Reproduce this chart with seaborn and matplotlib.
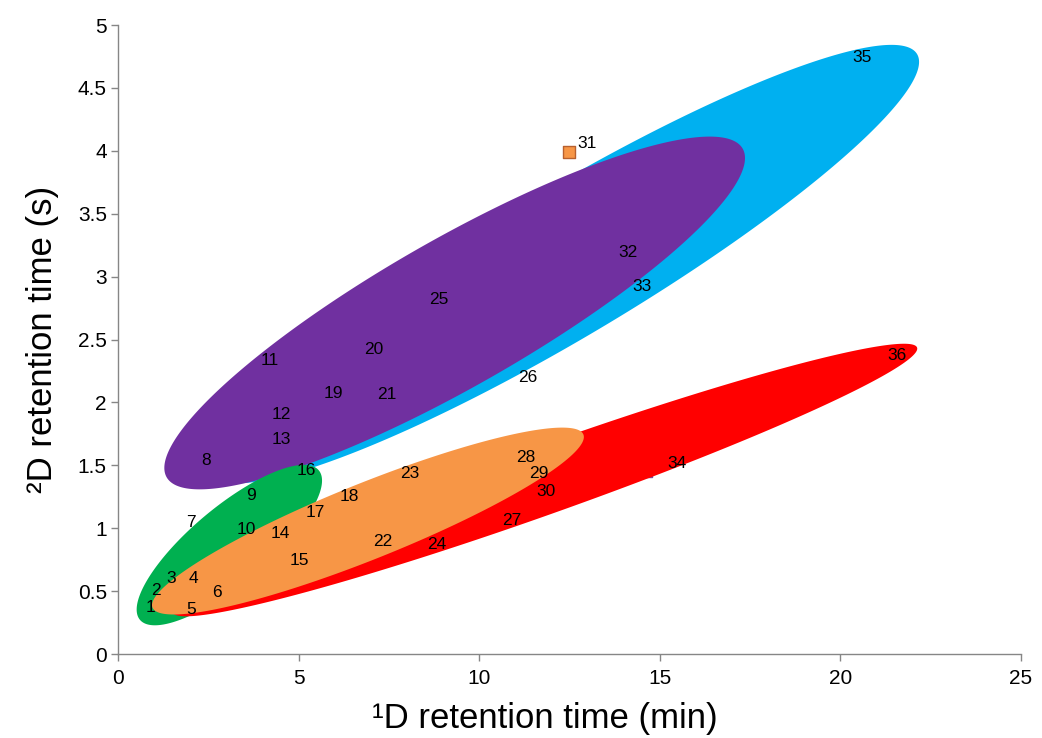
import numpy as np
import pandas as pd
import matplotlib
matplotlib.use("Agg")
import matplotlib.pyplot as plt
import seaborn as sns

# Peak numbers and their retention times in both dimensions
peak_ids = list(range(1, 37))
rt_1d_min = [0.53, 0.69, 1.11, 1.72, 1.66, 2.38, 1.66, 2.08, 3.32, 3.07,
             3.74, 4.04, 4.04, 4.01, 4.54, 4.73, 4.98, 5.92, 5.48, 6.59,
             6.95, 6.84, 7.59, 8.33, 8.39, 10.85, 10.41, 10.80, 11.16, 11.35,
             12.49, 13.62, 14.01, 14.62, 20.10, 21.07]
rt_2d_s = [0.30, 0.43, 0.53, 0.53, 0.28, 0.42, 0.97, 1.47, 1.19, 0.92,
           2.26, 1.83, 1.63, 0.89, 0.67, 1.39, 1.05, 1.18, 2.00, 2.35,
           1.99, 0.82, 1.36, 0.80, 2.75, 2.13, 0.99, 1.49, 1.36, 1.22,
           3.99, 3.12, 2.85, 1.45, 4.67, 2.30]
compound_class = ["green", "green", "green", "orange", "red", "orange", "green", "purple", "green", "green",
                  "purple", "purple", "purple", "orange", "orange", "green", "orange", "orange", "purple", "purple",
                  "purple", "orange", "orange", "red", "purple", "blue", "red", "orange", "orange", "red",
                  "orange", "purple", "blue", "red", "blue", "red"]
# Peaks plotted with a marker (the rest carry only their number)
flagged_peaks = [31, 34]

# Group regions: centre, major semi-axis vector and minor semi-axis vector (data units)
region_names = ["blue", "purple", "green", "red", "orange"]
region_cx = [12.375, 9.322, 3.084, 11.822, 6.921]
region_cy = [3.100, 2.711, 0.866, 1.383, 1.057]
region_major_dx = [9.749, 7.974, 2.476, 10.302, 5.965]
region_major_dy = [1.669, 1.306, 0.594, 1.053, 0.688]
region_minor_dx = [-1.040, -1.013, -0.674, -0.316, -0.392]
region_minor_dy = [0.500, 0.510, 0.232, 0.255, 0.280]

x_ticks = [0, 5, 10, 15, 20, 25]
y_ticks = [0, 0.5, 1, 1.5, 2, 2.5, 3, 3.5, 4, 4.5, 5]
y_tick_labels = ["0", "0.5", "1", "1.5", "2", "2.5", "3", "3.5", "4", "4.5", "5"]

fill_colors = {"blue": "#00B0F0", "purple": "#7030A0", "green": "#00B050",
               "red": "#FF0000", "orange": "#F79646"}
edge_colors = {"blue": "#2C8FC0", "purple": "#5A2680", "green": "#1E8040",
               "red": "#7A4A9A", "orange": "#B8602E"}

sns.set_theme(style="white")
plt.rcParams["font.family"] = ["Liberation Sans", "DejaVu Sans"]

df = pd.DataFrame({"peak": peak_ids, "rt1": rt_1d_min, "rt2": rt_2d_s, "cls": compound_class})
marked = df[df["peak"].isin(flagged_peaks)]

fig = plt.figure(figsize=(10.42, 7.38), dpi=100)
ax = fig.add_axes([0.1132, 0.1138, 0.8666, 0.8523])

sns.scatterplot(data=marked, x="rt1", y="rt2", hue="cls", palette=fill_colors,
                marker="s", s=70, linewidth=1.0,
                edgecolor=[edge_colors[c] for c in marked["cls"]],
                legend=False, ax=ax, zorder=1)

# Filled group ellipses, drawn over the markers
t = np.linspace(0, 2 * np.pi, 500)
for i, name in enumerate(region_names):
    ex = region_cx[i] + np.cos(t) * region_major_dx[i] + np.sin(t) * region_minor_dx[i]
    ey = region_cy[i] + np.cos(t) * region_major_dy[i] + np.sin(t) * region_minor_dy[i]
    ax.fill(ex, ey, color=fill_colors[name], linewidth=0, zorder=2 + i)

# Peak number labels to the right of each position
label_nudge = {34: (15.5, 6.0)}
for pid, x, y in zip(df["peak"], df["rt1"], df["rt2"]):
    dx, dy = label_nudge.get(pid, (5.8, 6.5))
    ax.annotate(str(pid), (x, y), xytext=(dx, dy), textcoords="offset points",
                ha="left", va="center", fontsize=12.5, color="black", zorder=20)

ax.set_xlim(0, 25)
ax.set_ylim(0, 5)
ax.set_xticks(x_ticks)
ax.set_xticklabels([str(v) for v in x_ticks])
ax.set_yticks(y_ticks)
ax.set_yticklabels(y_tick_labels)

for side in ["top", "right"]:
    ax.spines[side].set_visible(False)
for side in ["left", "bottom"]:
    ax.spines[side].set_color("#868686")
    ax.spines[side].set_linewidth(1.0)
ax.tick_params(axis="both", which="major", direction="out", length=5, width=1.0,
               color="#868686", labelsize=15, labelcolor="black")
ax.tick_params(axis="x", bottom=True, pad=6)
ax.tick_params(axis="y", left=True, pad=3)

ax.set_xlabel("¹D retention time (min)", fontsize=25, color="black")
ax.set_ylabel("²D retention time (s)", fontsize=25, color="black")
ax.xaxis.set_label_coords(0.473, -0.102)
ax.xaxis.label.set_va("center")
ax.yaxis.set_label_coords(-0.084, 0.5)
ax.yaxis.label.set_va("center")
ax.grid(False)

fig.savefig("out.png", dpi=100)
